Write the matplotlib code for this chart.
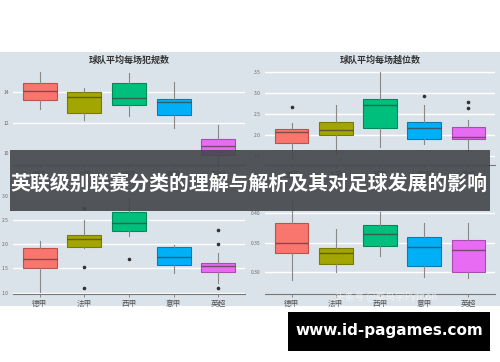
import matplotlib
matplotlib.use("Agg")
import matplotlib.pyplot as plt
from matplotlib.patches import Rectangle

plt.rcParams['font.family'] = ['Noto Sans CJK SC', 'DejaVu Sans']

leagues = ["德甲", "法甲", "西甲", "意甲", "英超"]
colors = ["#F8766D", "#A3A500", "#00BF7D", "#00B0F6", "#E76BF3"]
edge_colors = ["#c0504a", "#7a7b00", "#008a5a", "#0080b4", "#a94bb0"]

# Panel 1: fouls per match
foul_q1 = [13.49, 12.66, 13.16, 12.53, 9.85]
foul_med = [14.1, 13.69, 13.65, 13.36, 10.47]
foul_q3 = [14.59, 14.02, 14.59, 13.58, 10.93]
foul_lo = [12.88, 12.16, 12.44, 11.63, 9.3]
foul_hi = [15.35, 14.3, 15.3, 14.7, 11.85]
foul_fl = [[], [], [], [], []]

# Panel 2: offsides per match
off_q1 = [1.81, 2.0, 2.16, 1.91, 1.90]
off_med = [2.06, 2.12, 2.72, 2.16, 1.96]
off_q3 = [2.14, 2.30, 2.87, 2.30, 2.18]
off_lo = [1.45, 1.55, 1.72, 1.77, 1.62]
off_hi = [2.29, 2.72, 3.5, 2.71, 2.36]
off_fl = [[2.68], [], [], [2.93], [2.79, 2.65]]

# Panel 3 (bottom-left)
p3_q1 = [1.51, 1.94, 2.27, 1.58, 1.42]
p3_med = [1.69, 2.10, 2.43, 1.73, 1.55]
p3_q3 = [1.92, 2.20, 2.66, 1.94, 1.62]
p3_lo = [1.02, 1.92, 2.17, 1.41, 1.20]
p3_hi = [2.06, 2.50, 2.96, 1.99, 1.83]
p3_fl = [[], [2.74, 1.54, 1.09], [1.70], [], [2.29, 2.0, 1.09]]

# Panel 4 (bottom-right)
p4_q1 = [0.332, 0.314, 0.345, 0.310, 0.300]
p4_med = [0.349, 0.332, 0.364, 0.342, 0.338]
p4_q3 = [0.383, 0.340, 0.380, 0.360, 0.354]
p4_lo = [0.286, 0.300, 0.327, 0.291, 0.289]
p4_hi = [0.423, 0.373, 0.403, 0.383, 0.383]
p4_fl = [[], [], [], [], []]

W, H = 500, 362
BG = "#dbe3ea"
fig = plt.figure(figsize=(5, 3.62), dpi=100)
fig.patch.set_facecolor("white")
fig.patches.append(Rectangle((0, 1 - 306 / H), 1, (306 - 52) / H,
                             transform=fig.transFigure, facecolor=BG,
                             edgecolor="none", zorder=-5))


def px_axes(x0, x1, y0, y1):
    return fig.add_axes([x0 / W, 1 - y1 / H, (x1 - x0) / W, (y1 - y0) / H])


def panel(ax, q1, med, q3, lo, hi, fl, ylim, yticks, ylabels, title=None):
    stats = []
    for i in range(len(leagues)):
        stats.append(dict(q1=q1[i], med=med[i], q3=q3[i], whislo=lo[i],
                          whishi=hi[i], fliers=fl[i], label=leagues[i]))
    ax.set_facecolor(BG)
    ax.set_axisbelow(True)
    for i, s in enumerate(stats):
        ax.bxp([s], positions=[i], widths=0.76, patch_artist=True,
               showcaps=False,
               boxprops=dict(facecolor=colors[i], edgecolor=edge_colors[i], linewidth=0.8),
               medianprops=dict(color="#4a3a3a", linewidth=1.0, alpha=0.7),
               whiskerprops=dict(color="#888888", linewidth=0.8),
               flierprops=dict(marker="o", markersize=1.6, markerfacecolor="#333333",
                               markeredgecolor="#333333"))
    ax.set_xlim(-0.6, 4.6)
    ax.set_ylim(*ylim)
    ax.set_yticks(yticks)
    ax.set_yticklabels(ylabels)
    ax.set_xticks(range(len(leagues)))
    ax.set_xticklabels(leagues)
    ax.grid(axis="y", color="white", linewidth=1.0)
    ax.grid(axis="x", visible=False)
    for sp in ["top", "right", "left"]:
        ax.spines[sp].set_visible(False)
    ax.spines["bottom"].set_color("#777777")
    ax.spines["bottom"].set_linewidth(0.8)
    ax.tick_params(axis="y", length=0, labelsize=3.5, labelcolor="#666666", pad=3)
    ax.tick_params(axis="x", length=2, width=0.6, color="#777777", labelsize=5.5,
                   labelcolor="#555555", pad=2)
    if title:
        ax.set_title(title, fontsize=6.5, fontweight="bold", color="#333333", pad=4)


ax1 = px_axes(13, 245, 68, 165)
panel(ax1, foul_q1, foul_med, foul_q3, foul_lo, foul_hi, foul_fl,
      (9.22, 15.6), [10, 12, 14], ["10", "12", "14"], "球队平均每场犯规数")
ax2 = px_axes(265, 495, 68, 165)
panel(ax2, off_q1, off_med, off_q3, off_lo, off_hi, off_fl,
      (1.278, 3.603), [1.5, 2.0, 2.5, 3.0, 3.5], ["1.5", "2.0", "2.5", "3.0", "3.5"],
      "球队平均每场越位数")
ax3 = px_axes(13, 245, 193, 294)
panel(ax3, p3_q1, p3_med, p3_q3, p3_lo, p3_hi, p3_fl,
      (0.973, 3.06), [1.0, 1.5, 2.0, 2.5, 3.0], ["1.0", "1.5", "2.0", "2.5", "3.0"])
ax4 = px_axes(265, 495, 193, 294)
panel(ax4, p4_q1, p4_med, p4_q3, p4_lo, p4_hi, p4_fl,
      (0.262, 0.435), [0.30, 0.35, 0.40], ["0.30", "0.35", "0.40"])

# watermark
fig.text(335 / W, 1 - 297 / H, "头条号 @菜鸟学Python", fontsize=7, color="white",
         alpha=0.6, va="center", ha="left")

# dark banner
fig.patches.append(Rectangle((10 / W, 1 - 211 / H), 480 / W, 61 / H,
                             transform=fig.transFigure, facecolor="#45484c",
                             edgecolor="none", alpha=0.92, zorder=10))
fig.text(249 / W, 1 - 183 / H, "英联级别联赛分类的理解与解析及其对足球发展的影响",
         fontsize=14.3, fontweight="bold", color="white", ha="center", va="center",
         zorder=11)

# black site box
fig.patches.append(Rectangle((288 / W, 1 - 351 / H), 202 / W, 39 / H,
                             transform=fig.transFigure, facecolor="black",
                             edgecolor="none", zorder=10))
fig.text(389 / W, 1 - 331 / H, "www.id-pagames.com", fontsize=11,
         fontweight="bold", color="white", ha="center", va="center",
         family=["DejaVu Sans"], zorder=11)

fig.savefig("out.png", dpi=100)
